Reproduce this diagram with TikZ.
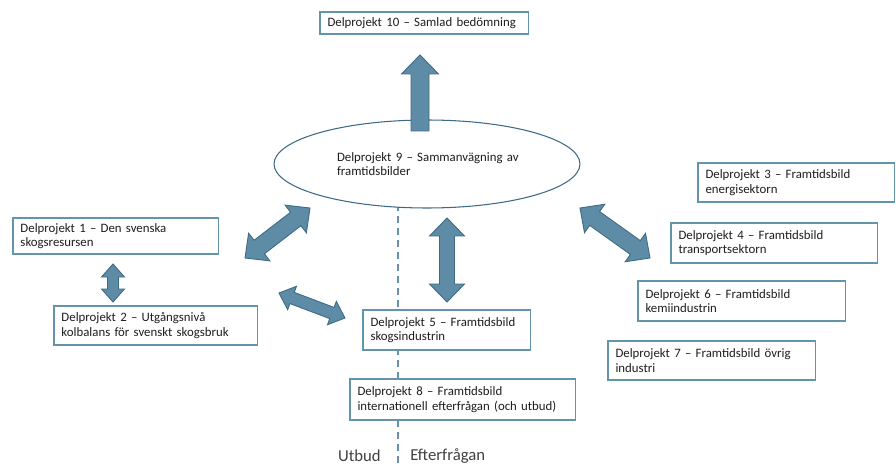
\documentclass[tikz,border=0pt]{standalone}
\usepackage{fontspec}
\setmainfont{Carlito}
\usetikzlibrary{shapes.geometric,calc}

\definecolor{boxblue}{RGB}{100,148,172}
\definecolor{arrowfill}{RGB}{94,140,166}
\definecolor{arrowline}{RGB}{62,106,132}
\definecolor{txtgray}{RGB}{30,30,30}
\definecolor{sidegray}{RGB}{64,64,64}

\tikzset{
	box/.style={draw=boxblue, fill=white, line width=0.6pt, anchor=north west, align=left,
		inner xsep=1.5mm, inner ysep=0pt, outer sep=0pt, text width=#1, text=txtgray,
		font=\fontsize{7.3}{8.2}\selectfont},
	body/.style={fill=arrowfill, draw=arrowline, line width=0.5pt, line join=miter},
	sidetext/.style={text=sidegray, font=\fontsize{9.5}{11}\selectfont, inner sep=0pt},
}

% fat double arrow: from, to, head length, head half width, shaft half width (px)
\newcommand\dblarrow[5]{%
	\pgfmathsetmacro\ahd{veclen(#3,#4)*0.02}%
	\pgfmathsetmacro\aha{atan2(#4,#3)}%
	\pgfmathsetmacro\asd{veclen(#3,#5)*0.02}%
	\pgfmathsetmacro\asa{atan2(#5,#3)}%
	\filldraw[body] (#1) -- ($(#1)!\ahd cm!\aha:(#2)$) -- ($(#1)!\asd cm!\asa:(#2)$)
		-- ($(#2)!\asd cm!-\asa:(#1)$) -- ($(#2)!\ahd cm!-\aha:(#1)$) -- (#2)
		-- ($(#2)!\ahd cm!\aha:(#1)$) -- ($(#2)!\asd cm!\asa:(#1)$)
		-- ($(#1)!\asd cm!-\asa:(#2)$) -- ($(#1)!\ahd cm!-\aha:(#2)$) -- cycle;}
% fat single arrow, flat end at #1
\newcommand\onearrow[5]{%
	\pgfmathsetmacro\ahd{veclen(#3,#4)*0.02}%
	\pgfmathsetmacro\aha{atan2(#4,#3)}%
	\pgfmathsetmacro\asd{veclen(#3,#5)*0.02}%
	\pgfmathsetmacro\asa{atan2(#5,#3)}%
	\pgfmathsetmacro\asw{#5*0.02}%
	\filldraw[body] ($(#1)!\asw cm!90:(#2)$) -- ($(#2)!\asd cm!-\asa:(#1)$) -- ($(#2)!\ahd cm!-\aha:(#1)$)
		-- (#2) -- ($(#2)!\ahd cm!\aha:(#1)$) -- ($(#2)!\asd cm!\asa:(#1)$)
		-- ($(#1)!\asw cm!-90:(#2)$) -- cycle;}

\begin{document}
\begin{tikzpicture}[x=0.02cm,y=-0.02cm]
	\useasboundingbox (0,0) rectangle (896,466);
%	\draw[help lines,step=50] (0,0) grid (896,466);

	% Utbud / Efterfrågan divider
	\draw[boxblue, line width=0.7pt, dash pattern=on 1.4mm off 1mm] (398,204) -- (398,466);
	\node[sidetext, anchor=east] (utbud) at (381,456) {Utbud};
	\node[sidetext, anchor=west] (efter) at (410,456) {Efterfrågan};

	\node[ellipse, draw=arrowline, fill=white, line width=0.6pt, minimum width=61.2mm, minimum height=17.6mm,
		inner sep=0pt, text width=40mm, align=left, text=txtgray, font=\fontsize{7.3}{8.2}\selectfont]
		(dp9) at (427,164) {\hspace*{2mm}Delprojekt 9 -- Sammanvägning av\\\hspace*{2mm}framtidsbilder};

	\node[box=38.8mm, minimum height=4.4mm] (dp10) at (320,12) {Delprojekt 10 -- Samlad bedömning};
	\node[box=38.2mm, minimum height=7.2mm] (dp1) at (13,218) {Delprojekt 1 -- Den svenska\\skogsresursen};
	\node[box=37.8mm, minimum height=7.8mm] (dp2) at (54,306) {Delprojekt 2 -- Utgångsnivå\\kolbalans för svenskt skogsbruk};
	\node[box=36.4mm, minimum height=7.8mm] (dp3) at (698,163) {Delprojekt 3 -- Framtidsbild\\energisektorn};
	\node[box=38.4mm, minimum height=8mm] (dp4) at (671,223) {Delprojekt 4 -- Framtidsbild\\transportsektorn};
	\node[box=30.6mm, minimum height=8mm] (dp5) at (363,310) {Delprojekt 5 -- Framtidsbild\\skogsindustrin};
	\node[box=38.6mm, minimum height=8mm] (dp6) at (638,281) {Delprojekt 6 -- Framtidsbild\\kemiindustrin};
	\node[box=38.6mm, minimum height=7.8mm] (dp7) at (608,341) {Delprojekt 7 -- Framtidsbild övrig\\industri};
	\node[box=42.2mm, minimum height=8.2mm] (dp8) at (350,379) {Delprojekt 8 -- Framtidsbild\\internationell efterfrågan (och utbud)};

	\coordinate (u0) at (420,131); \coordinate (u1) at (420,55);
	\coordinate (a1) at (245,258); \coordinate (b1) at (310,208);
	\coordinate (a2) at (113,264); \coordinate (b2) at (113,302);
	\coordinate (a3) at (279,293); \coordinate (b3) at (345,318);
	\coordinate (a4) at (447,218); \coordinate (b4) at (447,302);
	\coordinate (a5) at (580,208); \coordinate (b5) at (650,258);

	\onearrow{u0}{u1}{19}{18.5}{9}
	\dblarrow{a1}{b1}{18}{17.5}{8.5}
	\dblarrow{a2}{b2}{13}{11.5}{5.5}
	\dblarrow{a3}{b3}{14}{12.5}{6}
	\dblarrow{a4}{b4}{18}{17.5}{7.5}
	\dblarrow{a5}{b5}{18}{17.5}{8.5}
\end{tikzpicture}
\end{document}
